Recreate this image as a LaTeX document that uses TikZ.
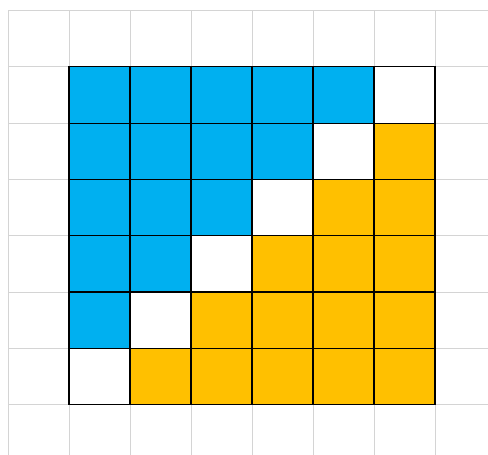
\documentclass[tikz,border=0pt]{standalone}
\definecolor{cellblue}{HTML}{00B0F0}
\definecolor{cellorange}{HTML}{FFC000}
\definecolor{gridgray}{HTML}{D4D4D4}
\tikzset{
  gridline/.style={draw=gridgray, line width=1pt},
  bluecell/.style={fill=cellblue, draw=black, line width=1.2pt},
  orangecell/.style={fill=cellorange, draw=black, line width=1.2pt},
  whitecell/.style={fill=white, draw=black, line width=1.2pt}
}
\begin{document}
\begin{tikzpicture}[x=1pt,y=-1pt]
\useasboundingbox (0,0) rectangle (488,455);
% background grid
\foreach \k in {0,...,7} {
  \draw[gridline] ({8+61*\k},10.5) -- ({8+61*\k},455);
  \draw[gridline] (8,{10.5+56.3*\k}) -- (488,{10.5+56.3*\k});
}
% cells
\foreach \i in {0,...,5} {
  \foreach \j in {0,...,5} {
    \pgfmathtruncatemacro{\s}{\i+\j}
    \ifnum\s<5
      \def\cst{bluecell}
    \else\ifnum\s=5
      \def\cst{whitecell}
    \else
      \def\cst{orangecell}
    \fi\fi
    \path[\cst] ({69+61*\j},{66.8+56.3*\i}) rectangle ({130+61*\j},{123.1+56.3*\i});
  }
}
\end{tikzpicture}
\end{document}
